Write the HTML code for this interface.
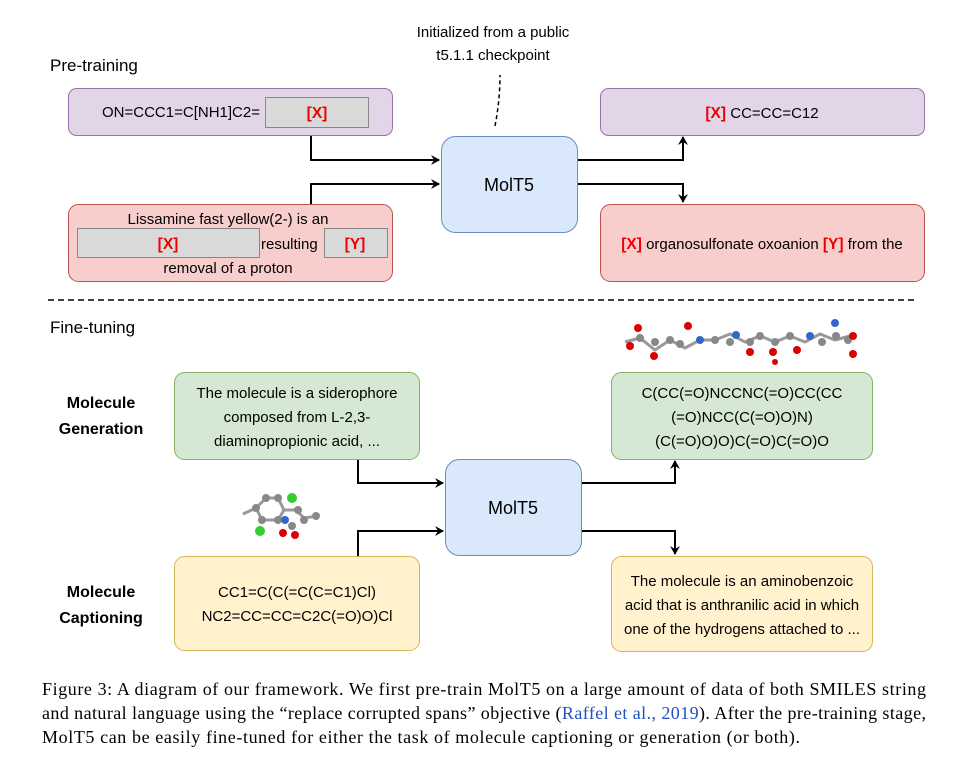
<!DOCTYPE html>
<html><head><meta charset="utf-8"><style>
body{margin:0;background:#fff;}
svg{display:block;}
text{font-family:"Liberation Sans",sans-serif;}
.s{font-size:15px;fill:#000;}
.r{font-size:15.5px;fill:#e00;font-weight:bold;}
</style></head><body>
<svg width="965" height="759" viewBox="0 0 965 759" xmlns="http://www.w3.org/2000/svg">
<defs><marker id="a" markerWidth="10" markerHeight="10" refX="8" refY="5" orient="auto" markerUnits="userSpaceOnUse"><path d="M0,0 L9,5 L0,10 L3,5 Z" fill="#000"/></marker></defs>
<text x="50" y="71" font-size="17">Pre-training</text>
<text x="493" y="37" font-size="15" text-anchor="middle">Initialized from a public</text>
<text x="493" y="60" font-size="15" text-anchor="middle">t5.1.1 checkpoint</text>
<path d="M495,126 Q500,100 500,75" stroke="#000" stroke-width="1.5" fill="none" stroke-dasharray="4,3"/>
<rect x="68.5" y="88.5" width="324" height="47" rx="8" fill="#e1d5e7" stroke="#9673a6"/>
<text x="102" y="117" class="s">ON=CCC1=C[NH1]C2=</text>
<rect x="265.5" y="97.5" width="103" height="30" fill="#d9d9d9" stroke="#888"/>
<text x="317" y="118" class="r" text-anchor="middle">[X]</text>
<rect x="68.5" y="204.5" width="324" height="77" rx="10" fill="#f8cecc" stroke="#b85450"/>
<text x="228" y="224" class="s" text-anchor="middle">Lissamine fast yellow(2-) is an</text>
<rect x="77.5" y="228.5" width="182" height="29" fill="#d9d9d9" stroke="#888"/>
<text x="168" y="249" class="r" text-anchor="middle">[X]</text>
<text x="261" y="249" class="s">resulting</text>
<rect x="324.5" y="228.5" width="63" height="29" fill="#d9d9d9" stroke="#888"/>
<text x="355" y="249" class="r" text-anchor="middle">[Y]</text>
<text x="228" y="273" class="s" text-anchor="middle">removal of a proton</text>
<rect x="441.5" y="136.5" width="136" height="96" rx="14" fill="#dae8fc" stroke="#6c8ebf"/>
<text x="509" y="191" font-size="18" text-anchor="middle">MolT5</text>
<rect x="600.5" y="88.5" width="324" height="47" rx="8" fill="#e1d5e7" stroke="#9673a6"/>
<text x="762" y="118" class="s" text-anchor="middle"><tspan class="r">[X]</tspan> CC=CC=C12</text>
<rect x="600.5" y="204.5" width="324" height="77" rx="10" fill="#f8cecc" stroke="#b85450"/>
<text x="762" y="249" class="s" text-anchor="middle"><tspan class="r">[X]</tspan> organosulfonate oxoanion <tspan class="r">[Y]</tspan> from the</text>
<g stroke="#000" stroke-width="2" fill="none">
<path d="M311,136 V160 H439" marker-end="url(#a)"/>
<path d="M311,204 V184 H439" marker-end="url(#a)"/>
<path d="M578,160 H683 V137" marker-end="url(#a)"/>
<path d="M578,184 H683 V202" marker-end="url(#a)"/>
</g>
<line x1="48" y1="300" x2="915" y2="300" stroke="#000" stroke-width="1.5" stroke-dasharray="6,4"/>
<text x="50" y="333" font-size="17">Fine-tuning</text>
<text x="101" y="408" font-size="16" font-weight="bold" text-anchor="middle">Molecule</text>
<text x="101" y="434" font-size="16" font-weight="bold" text-anchor="middle">Generation</text>
<text x="101" y="597" font-size="16" font-weight="bold" text-anchor="middle">Molecule</text>
<text x="101" y="623" font-size="16" font-weight="bold" text-anchor="middle">Captioning</text>
<rect x="174.5" y="372.5" width="245" height="87" rx="10" fill="#d5e8d4" stroke="#82b366"/>
<text x="297" y="398" class="s" text-anchor="middle">The molecule is a siderophore</text>
<text x="297" y="422" class="s" text-anchor="middle">composed from L-2,3-</text>
<text x="297" y="446" class="s" text-anchor="middle">diaminopropionic acid, ...</text>
<rect x="611.5" y="372.5" width="261" height="87" rx="10" fill="#d5e8d4" stroke="#82b366"/>
<text x="742" y="398" class="s" text-anchor="middle">C(CC(=O)NCCNC(=O)CC(CC</text>
<text x="742" y="422" class="s" text-anchor="middle">(=O)NCC(C(=O)O)N)</text>
<text x="742" y="446" class="s" text-anchor="middle">(C(=O)O)O)C(=O)C(=O)O</text>
<rect x="445.5" y="459.5" width="136" height="96" rx="14" fill="#dae8fc" stroke="#6c8ebf"/>
<text x="513" y="514" font-size="18" text-anchor="middle">MolT5</text>
<rect x="174.5" y="556.5" width="245" height="94" rx="10" fill="#fff2cc" stroke="#d6b656"/>
<text x="297" y="597" class="s" text-anchor="middle">CC1=C(C(=C(C=C1)Cl)</text>
<text x="297" y="621" class="s" text-anchor="middle">NC2=CC=CC=C2C(=O)O)Cl</text>
<rect x="611.5" y="556.5" width="261" height="95" rx="10" fill="#fff2cc" stroke="#d6b656"/>
<text x="742" y="586" class="s" text-anchor="middle">The molecule is an aminobenzoic</text>
<text x="742" y="610" class="s" text-anchor="middle">acid that is anthranilic acid in which</text>
<text x="742" y="634" class="s" text-anchor="middle">one of the hydrogens attached to ...</text>
<g stroke="#000" stroke-width="2" fill="none">
<path d="M358,460 V483 H443" marker-end="url(#a)"/>
<path d="M358,556 V531 H443" marker-end="url(#a)"/>
<path d="M582,483 H675 V461" marker-end="url(#a)"/>
<path d="M582,531 H675 V554" marker-end="url(#a)"/>
</g>
<g stroke="#999" stroke-width="3">
<polyline points="625,342 640,338 655,350 670,340 685,348 700,340 715,340 730,334 745,342 760,336 775,342 790,336 805,342 820,334 835,340 850,336" fill="none"/>
</g>
<g fill="#888"><circle cx="640" cy="338" r="4"/><circle cx="655" cy="342" r="4"/><circle cx="670" cy="340" r="4"/><circle cx="680" cy="344" r="4"/><circle cx="715" cy="340" r="4"/><circle cx="730" cy="342" r="4"/><circle cx="750" cy="342" r="4"/><circle cx="760" cy="336" r="4"/><circle cx="775" cy="342" r="4"/><circle cx="790" cy="336" r="4"/><circle cx="822" cy="342" r="4"/><circle cx="836" cy="336" r="4"/><circle cx="848" cy="340" r="4"/></g>
<g fill="#d00"><circle cx="638" cy="328" r="4"/><circle cx="630" cy="346" r="4"/><circle cx="654" cy="356" r="4"/><circle cx="688" cy="326" r="4"/><circle cx="750" cy="352" r="4"/><circle cx="773" cy="352" r="4"/><circle cx="775" cy="362" r="3"/><circle cx="797" cy="350" r="4"/><circle cx="853" cy="336" r="4"/><circle cx="853" cy="354" r="4"/></g>
<g fill="#36c"><circle cx="700" cy="340" r="4"/><circle cx="736" cy="335" r="4"/><circle cx="810" cy="336" r="4"/><circle cx="835" cy="323" r="4"/></g>
<g stroke="#999" stroke-width="3" fill="none"><polyline points="243,514 256,508 266,498 278,498 284,510 296,510 304,518 318,516"/><polyline points="256,508 262,520 278,520 284,510"/></g>
<g fill="#888"><circle cx="256" cy="508" r="4"/><circle cx="266" cy="498" r="4"/><circle cx="278" cy="498" r="4"/><circle cx="262" cy="520" r="4"/><circle cx="278" cy="520" r="4"/><circle cx="298" cy="510" r="4"/><circle cx="304" cy="520" r="4"/><circle cx="316" cy="516" r="4"/><circle cx="292" cy="526" r="4"/></g>
<g fill="#3c3"><circle cx="292" cy="498" r="5"/><circle cx="260" cy="531" r="5"/></g>
<circle cx="285" cy="520" r="4" fill="#36c"/>
<g fill="#d00"><circle cx="283" cy="533" r="4"/><circle cx="295" cy="535" r="4"/></g>
<g font-size="18" fill="#000">
<text x="42" y="695" textLength="884" lengthAdjust="spacing" style="font-family:'Liberation Serif',serif">Figure 3: A diagram of our framework. We first pre-train MolT5 on a large amount of data of both SMILES string</text>
<text x="42" y="719" textLength="884" lengthAdjust="spacing" style="font-family:'Liberation Serif',serif">and natural language using the “replace corrupted spans” objective (<tspan fill="#2050c0">Raffel et al., 2019</tspan>). After the pre-training stage,</text>
<text x="42" y="743" textLength="758" lengthAdjust="spacing" style="font-family:'Liberation Serif',serif">MolT5 can be easily fine-tuned for either the task of molecule captioning or generation (or both).</text>
</g>
</svg>
</body></html>
